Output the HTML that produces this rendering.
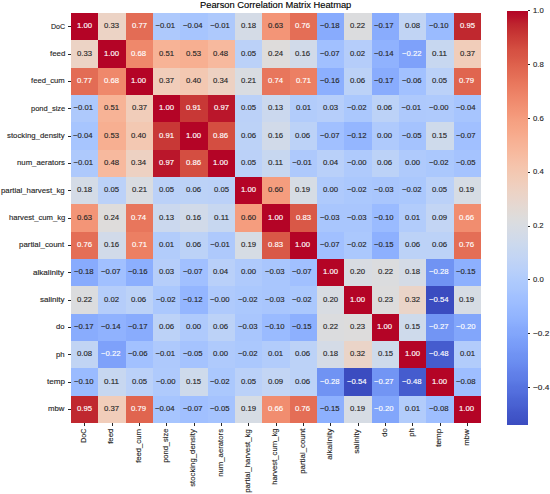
<!DOCTYPE html>
<html><head><meta charset="utf-8"><style>
html,body{margin:0;padding:0;background:#fff;}
body{width:550px;height:494px;position:relative;overflow:hidden;font-family:"Liberation Sans",sans-serif;}
.a{position:absolute;white-space:nowrap;line-height:1;-webkit-text-stroke:0.13px currentColor;}
.c{position:absolute;}
.t{position:absolute;background:#262626;}
</style></head><body>
<div class="a" style="left:200.46px;top:1.3px;font-size:9.0px;color:#000;transform:scaleX(1.0359);transform-origin:0 50%;">Pearson Correlation Matrix Heatmap</div>
<div class="c" style="left:71.00px;top:13.05px;width:27.35px;height:27.35px;background:#b40426"></div><div class="c" style="left:98.33px;top:13.05px;width:27.35px;height:27.35px;background:#ecd3c5"></div><div class="c" style="left:125.67px;top:13.05px;width:27.35px;height:27.35px;background:#e36c55"></div><div class="c" style="left:153.00px;top:13.05px;width:27.35px;height:27.35px;background:#aec9fc"></div><div class="c" style="left:180.33px;top:13.05px;width:27.35px;height:27.35px;background:#a7c5fe"></div><div class="c" style="left:207.67px;top:13.05px;width:27.35px;height:27.35px;background:#aec9fc"></div><div class="c" style="left:235.00px;top:13.05px;width:27.35px;height:27.35px;background:#d4dbe6"></div><div class="c" style="left:262.33px;top:13.05px;width:27.35px;height:27.35px;background:#f39577"></div><div class="c" style="left:289.67px;top:13.05px;width:27.35px;height:27.35px;background:#e46e56"></div><div class="c" style="left:317.00px;top:13.05px;width:27.35px;height:27.35px;background:#88abfd"></div><div class="c" style="left:344.33px;top:13.05px;width:27.35px;height:27.35px;background:#dbdcde"></div><div class="c" style="left:371.67px;top:13.05px;width:27.35px;height:27.35px;background:#89acfd"></div><div class="c" style="left:399.00px;top:13.05px;width:27.35px;height:27.35px;background:#c1d4f4"></div><div class="c" style="left:426.33px;top:13.05px;width:27.35px;height:27.35px;background:#9abbff"></div><div class="c" style="left:453.67px;top:13.05px;width:27.35px;height:27.35px;background:#c0282f"></div><div class="c" style="left:71.00px;top:40.38px;width:27.35px;height:27.35px;background:#ecd3c5"></div><div class="c" style="left:98.33px;top:40.38px;width:27.35px;height:27.35px;background:#b40426"></div><div class="c" style="left:125.67px;top:40.38px;width:27.35px;height:27.35px;background:#ef886b"></div><div class="c" style="left:153.00px;top:40.38px;width:27.35px;height:27.35px;background:#f7b396"></div><div class="c" style="left:180.33px;top:40.38px;width:27.35px;height:27.35px;background:#f7af91"></div><div class="c" style="left:207.67px;top:40.38px;width:27.35px;height:27.35px;background:#f7b99e"></div><div class="c" style="left:235.00px;top:40.38px;width:27.35px;height:27.35px;background:#bbd1f8"></div><div class="c" style="left:262.33px;top:40.38px;width:27.35px;height:27.35px;background:#dedcdb"></div><div class="c" style="left:289.67px;top:40.38px;width:27.35px;height:27.35px;background:#d1dae9"></div><div class="c" style="left:317.00px;top:40.38px;width:27.35px;height:27.35px;background:#a1c0ff"></div><div class="c" style="left:344.33px;top:40.38px;width:27.35px;height:27.35px;background:#b5cdfa"></div><div class="c" style="left:371.67px;top:40.38px;width:27.35px;height:27.35px;background:#90b2fe"></div><div class="c" style="left:399.00px;top:40.38px;width:27.35px;height:27.35px;background:#7ea1fa"></div><div class="c" style="left:426.33px;top:40.38px;width:27.35px;height:27.35px;background:#c7d7f0"></div><div class="c" style="left:453.67px;top:40.38px;width:27.35px;height:27.35px;background:#f1cdba"></div><div class="c" style="left:71.00px;top:67.72px;width:27.35px;height:27.35px;background:#e36c55"></div><div class="c" style="left:98.33px;top:67.72px;width:27.35px;height:27.35px;background:#ef886b"></div><div class="c" style="left:125.67px;top:67.72px;width:27.35px;height:27.35px;background:#b40426"></div><div class="c" style="left:153.00px;top:67.72px;width:27.35px;height:27.35px;background:#f1cdba"></div><div class="c" style="left:180.33px;top:67.72px;width:27.35px;height:27.35px;background:#f3c8b2"></div><div class="c" style="left:207.67px;top:67.72px;width:27.35px;height:27.35px;background:#edd1c2"></div><div class="c" style="left:235.00px;top:67.72px;width:27.35px;height:27.35px;background:#d9dce1"></div><div class="c" style="left:262.33px;top:67.72px;width:27.35px;height:27.35px;background:#e8765c"></div><div class="c" style="left:289.67px;top:67.72px;width:27.35px;height:27.35px;background:#ec7f63"></div><div class="c" style="left:317.00px;top:67.72px;width:27.35px;height:27.35px;background:#8caffe"></div><div class="c" style="left:344.33px;top:67.72px;width:27.35px;height:27.35px;background:#bcd2f7"></div><div class="c" style="left:371.67px;top:67.72px;width:27.35px;height:27.35px;background:#89acfd"></div><div class="c" style="left:399.00px;top:67.72px;width:27.35px;height:27.35px;background:#a2c1ff"></div><div class="c" style="left:426.33px;top:67.72px;width:27.35px;height:27.35px;background:#bbd1f8"></div><div class="c" style="left:453.67px;top:67.72px;width:27.35px;height:27.35px;background:#e0654f"></div><div class="c" style="left:71.00px;top:95.05px;width:27.35px;height:27.35px;background:#aec9fc"></div><div class="c" style="left:98.33px;top:95.05px;width:27.35px;height:27.35px;background:#f7b396"></div><div class="c" style="left:125.67px;top:95.05px;width:27.35px;height:27.35px;background:#f1cdba"></div><div class="c" style="left:153.00px;top:95.05px;width:27.35px;height:27.35px;background:#b40426"></div><div class="c" style="left:180.33px;top:95.05px;width:27.35px;height:27.35px;background:#c83836"></div><div class="c" style="left:207.67px;top:95.05px;width:27.35px;height:27.35px;background:#ba162b"></div><div class="c" style="left:235.00px;top:95.05px;width:27.35px;height:27.35px;background:#bbd1f8"></div><div class="c" style="left:262.33px;top:95.05px;width:27.35px;height:27.35px;background:#cbd8ee"></div><div class="c" style="left:289.67px;top:95.05px;width:27.35px;height:27.35px;background:#b2ccfb"></div><div class="c" style="left:317.00px;top:95.05px;width:27.35px;height:27.35px;background:#b6cefa"></div><div class="c" style="left:344.33px;top:95.05px;width:27.35px;height:27.35px;background:#abc8fd"></div><div class="c" style="left:371.67px;top:95.05px;width:27.35px;height:27.35px;background:#bcd2f7"></div><div class="c" style="left:399.00px;top:95.05px;width:27.35px;height:27.35px;background:#aec9fc"></div><div class="c" style="left:426.33px;top:95.05px;width:27.35px;height:27.35px;background:#afcafc"></div><div class="c" style="left:453.67px;top:95.05px;width:27.35px;height:27.35px;background:#a7c5fe"></div><div class="c" style="left:71.00px;top:122.38px;width:27.35px;height:27.35px;background:#a7c5fe"></div><div class="c" style="left:98.33px;top:122.38px;width:27.35px;height:27.35px;background:#f7af91"></div><div class="c" style="left:125.67px;top:122.38px;width:27.35px;height:27.35px;background:#f3c8b2"></div><div class="c" style="left:153.00px;top:122.38px;width:27.35px;height:27.35px;background:#c83836"></div><div class="c" style="left:180.33px;top:122.38px;width:27.35px;height:27.35px;background:#b40426"></div><div class="c" style="left:207.67px;top:122.38px;width:27.35px;height:27.35px;background:#d44e41"></div><div class="c" style="left:235.00px;top:122.38px;width:27.35px;height:27.35px;background:#bcd2f7"></div><div class="c" style="left:262.33px;top:122.38px;width:27.35px;height:27.35px;background:#d1dae9"></div><div class="c" style="left:289.67px;top:122.38px;width:27.35px;height:27.35px;background:#bcd2f7"></div><div class="c" style="left:317.00px;top:122.38px;width:27.35px;height:27.35px;background:#a1c0ff"></div><div class="c" style="left:344.33px;top:122.38px;width:27.35px;height:27.35px;background:#94b6ff"></div><div class="c" style="left:371.67px;top:122.38px;width:27.35px;height:27.35px;background:#afcafc"></div><div class="c" style="left:399.00px;top:122.38px;width:27.35px;height:27.35px;background:#a5c3fe"></div><div class="c" style="left:426.33px;top:122.38px;width:27.35px;height:27.35px;background:#cedaeb"></div><div class="c" style="left:453.67px;top:122.38px;width:27.35px;height:27.35px;background:#a1c0ff"></div><div class="c" style="left:71.00px;top:149.72px;width:27.35px;height:27.35px;background:#aec9fc"></div><div class="c" style="left:98.33px;top:149.72px;width:27.35px;height:27.35px;background:#f7b99e"></div><div class="c" style="left:125.67px;top:149.72px;width:27.35px;height:27.35px;background:#edd1c2"></div><div class="c" style="left:153.00px;top:149.72px;width:27.35px;height:27.35px;background:#ba162b"></div><div class="c" style="left:180.33px;top:149.72px;width:27.35px;height:27.35px;background:#d44e41"></div><div class="c" style="left:207.67px;top:149.72px;width:27.35px;height:27.35px;background:#b40426"></div><div class="c" style="left:235.00px;top:149.72px;width:27.35px;height:27.35px;background:#bbd1f8"></div><div class="c" style="left:262.33px;top:149.72px;width:27.35px;height:27.35px;background:#c7d7f0"></div><div class="c" style="left:289.67px;top:149.72px;width:27.35px;height:27.35px;background:#aec9fc"></div><div class="c" style="left:317.00px;top:149.72px;width:27.35px;height:27.35px;background:#b9d0f9"></div><div class="c" style="left:344.33px;top:149.72px;width:27.35px;height:27.35px;background:#afcafc"></div><div class="c" style="left:371.67px;top:149.72px;width:27.35px;height:27.35px;background:#bcd2f7"></div><div class="c" style="left:399.00px;top:149.72px;width:27.35px;height:27.35px;background:#afcafc"></div><div class="c" style="left:426.33px;top:149.72px;width:27.35px;height:27.35px;background:#abc8fd"></div><div class="c" style="left:453.67px;top:149.72px;width:27.35px;height:27.35px;background:#a5c3fe"></div><div class="c" style="left:71.00px;top:177.05px;width:27.35px;height:27.35px;background:#d4dbe6"></div><div class="c" style="left:98.33px;top:177.05px;width:27.35px;height:27.35px;background:#bbd1f8"></div><div class="c" style="left:125.67px;top:177.05px;width:27.35px;height:27.35px;background:#d9dce1"></div><div class="c" style="left:153.00px;top:177.05px;width:27.35px;height:27.35px;background:#bbd1f8"></div><div class="c" style="left:180.33px;top:177.05px;width:27.35px;height:27.35px;background:#bcd2f7"></div><div class="c" style="left:207.67px;top:177.05px;width:27.35px;height:27.35px;background:#bbd1f8"></div><div class="c" style="left:235.00px;top:177.05px;width:27.35px;height:27.35px;background:#b40426"></div><div class="c" style="left:262.33px;top:177.05px;width:27.35px;height:27.35px;background:#f59d7e"></div><div class="c" style="left:289.67px;top:177.05px;width:27.35px;height:27.35px;background:#d6dce4"></div><div class="c" style="left:317.00px;top:177.05px;width:27.35px;height:27.35px;background:#afcafc"></div><div class="c" style="left:344.33px;top:177.05px;width:27.35px;height:27.35px;background:#abc8fd"></div><div class="c" style="left:371.67px;top:177.05px;width:27.35px;height:27.35px;background:#a9c6fd"></div><div class="c" style="left:399.00px;top:177.05px;width:27.35px;height:27.35px;background:#abc8fd"></div><div class="c" style="left:426.33px;top:177.05px;width:27.35px;height:27.35px;background:#bbd1f8"></div><div class="c" style="left:453.67px;top:177.05px;width:27.35px;height:27.35px;background:#d6dce4"></div><div class="c" style="left:71.00px;top:204.38px;width:27.35px;height:27.35px;background:#f39577"></div><div class="c" style="left:98.33px;top:204.38px;width:27.35px;height:27.35px;background:#dedcdb"></div><div class="c" style="left:125.67px;top:204.38px;width:27.35px;height:27.35px;background:#e8765c"></div><div class="c" style="left:153.00px;top:204.38px;width:27.35px;height:27.35px;background:#cbd8ee"></div><div class="c" style="left:180.33px;top:204.38px;width:27.35px;height:27.35px;background:#d1dae9"></div><div class="c" style="left:207.67px;top:204.38px;width:27.35px;height:27.35px;background:#c7d7f0"></div><div class="c" style="left:235.00px;top:204.38px;width:27.35px;height:27.35px;background:#f59d7e"></div><div class="c" style="left:262.33px;top:204.38px;width:27.35px;height:27.35px;background:#b40426"></div><div class="c" style="left:289.67px;top:204.38px;width:27.35px;height:27.35px;background:#d95847"></div><div class="c" style="left:317.00px;top:204.38px;width:27.35px;height:27.35px;background:#a9c6fd"></div><div class="c" style="left:344.33px;top:204.38px;width:27.35px;height:27.35px;background:#a9c6fd"></div><div class="c" style="left:371.67px;top:204.38px;width:27.35px;height:27.35px;background:#9abbff"></div><div class="c" style="left:399.00px;top:204.38px;width:27.35px;height:27.35px;background:#b2ccfb"></div><div class="c" style="left:426.33px;top:204.38px;width:27.35px;height:27.35px;background:#c3d5f4"></div><div class="c" style="left:453.67px;top:204.38px;width:27.35px;height:27.35px;background:#f18d6f"></div><div class="c" style="left:71.00px;top:231.72px;width:27.35px;height:27.35px;background:#e46e56"></div><div class="c" style="left:98.33px;top:231.72px;width:27.35px;height:27.35px;background:#d1dae9"></div><div class="c" style="left:125.67px;top:231.72px;width:27.35px;height:27.35px;background:#ec7f63"></div><div class="c" style="left:153.00px;top:231.72px;width:27.35px;height:27.35px;background:#b2ccfb"></div><div class="c" style="left:180.33px;top:231.72px;width:27.35px;height:27.35px;background:#bcd2f7"></div><div class="c" style="left:207.67px;top:231.72px;width:27.35px;height:27.35px;background:#aec9fc"></div><div class="c" style="left:235.00px;top:231.72px;width:27.35px;height:27.35px;background:#d6dce4"></div><div class="c" style="left:262.33px;top:231.72px;width:27.35px;height:27.35px;background:#d95847"></div><div class="c" style="left:289.67px;top:231.72px;width:27.35px;height:27.35px;background:#b40426"></div><div class="c" style="left:317.00px;top:231.72px;width:27.35px;height:27.35px;background:#a1c0ff"></div><div class="c" style="left:344.33px;top:231.72px;width:27.35px;height:27.35px;background:#abc8fd"></div><div class="c" style="left:371.67px;top:231.72px;width:27.35px;height:27.35px;background:#8db0fe"></div><div class="c" style="left:399.00px;top:231.72px;width:27.35px;height:27.35px;background:#bcd2f7"></div><div class="c" style="left:426.33px;top:231.72px;width:27.35px;height:27.35px;background:#bcd2f7"></div><div class="c" style="left:453.67px;top:231.72px;width:27.35px;height:27.35px;background:#e46e56"></div><div class="c" style="left:71.00px;top:259.05px;width:27.35px;height:27.35px;background:#88abfd"></div><div class="c" style="left:98.33px;top:259.05px;width:27.35px;height:27.35px;background:#a1c0ff"></div><div class="c" style="left:125.67px;top:259.05px;width:27.35px;height:27.35px;background:#8caffe"></div><div class="c" style="left:153.00px;top:259.05px;width:27.35px;height:27.35px;background:#b6cefa"></div><div class="c" style="left:180.33px;top:259.05px;width:27.35px;height:27.35px;background:#a1c0ff"></div><div class="c" style="left:207.67px;top:259.05px;width:27.35px;height:27.35px;background:#b9d0f9"></div><div class="c" style="left:235.00px;top:259.05px;width:27.35px;height:27.35px;background:#afcafc"></div><div class="c" style="left:262.33px;top:259.05px;width:27.35px;height:27.35px;background:#a9c6fd"></div><div class="c" style="left:289.67px;top:259.05px;width:27.35px;height:27.35px;background:#a1c0ff"></div><div class="c" style="left:317.00px;top:259.05px;width:27.35px;height:27.35px;background:#b40426"></div><div class="c" style="left:344.33px;top:259.05px;width:27.35px;height:27.35px;background:#d8dce2"></div><div class="c" style="left:371.67px;top:259.05px;width:27.35px;height:27.35px;background:#dbdcde"></div><div class="c" style="left:399.00px;top:259.05px;width:27.35px;height:27.35px;background:#d4dbe6"></div><div class="c" style="left:426.33px;top:259.05px;width:27.35px;height:27.35px;background:#7093f3"></div><div class="c" style="left:453.67px;top:259.05px;width:27.35px;height:27.35px;background:#8db0fe"></div><div class="c" style="left:71.00px;top:286.38px;width:27.35px;height:27.35px;background:#dbdcde"></div><div class="c" style="left:98.33px;top:286.38px;width:27.35px;height:27.35px;background:#b5cdfa"></div><div class="c" style="left:125.67px;top:286.38px;width:27.35px;height:27.35px;background:#bcd2f7"></div><div class="c" style="left:153.00px;top:286.38px;width:27.35px;height:27.35px;background:#abc8fd"></div><div class="c" style="left:180.33px;top:286.38px;width:27.35px;height:27.35px;background:#94b6ff"></div><div class="c" style="left:207.67px;top:286.38px;width:27.35px;height:27.35px;background:#afcafc"></div><div class="c" style="left:235.00px;top:286.38px;width:27.35px;height:27.35px;background:#abc8fd"></div><div class="c" style="left:262.33px;top:286.38px;width:27.35px;height:27.35px;background:#a9c6fd"></div><div class="c" style="left:289.67px;top:286.38px;width:27.35px;height:27.35px;background:#abc8fd"></div><div class="c" style="left:317.00px;top:286.38px;width:27.35px;height:27.35px;background:#d8dce2"></div><div class="c" style="left:344.33px;top:286.38px;width:27.35px;height:27.35px;background:#b40426"></div><div class="c" style="left:371.67px;top:286.38px;width:27.35px;height:27.35px;background:#dddcdc"></div><div class="c" style="left:399.00px;top:286.38px;width:27.35px;height:27.35px;background:#ead4c8"></div><div class="c" style="left:426.33px;top:286.38px;width:27.35px;height:27.35px;background:#3b4cc0"></div><div class="c" style="left:453.67px;top:286.38px;width:27.35px;height:27.35px;background:#d6dce4"></div><div class="c" style="left:71.00px;top:313.72px;width:27.35px;height:27.35px;background:#89acfd"></div><div class="c" style="left:98.33px;top:313.72px;width:27.35px;height:27.35px;background:#90b2fe"></div><div class="c" style="left:125.67px;top:313.72px;width:27.35px;height:27.35px;background:#89acfd"></div><div class="c" style="left:153.00px;top:313.72px;width:27.35px;height:27.35px;background:#bcd2f7"></div><div class="c" style="left:180.33px;top:313.72px;width:27.35px;height:27.35px;background:#afcafc"></div><div class="c" style="left:207.67px;top:313.72px;width:27.35px;height:27.35px;background:#bcd2f7"></div><div class="c" style="left:235.00px;top:313.72px;width:27.35px;height:27.35px;background:#a9c6fd"></div><div class="c" style="left:262.33px;top:313.72px;width:27.35px;height:27.35px;background:#9abbff"></div><div class="c" style="left:289.67px;top:313.72px;width:27.35px;height:27.35px;background:#8db0fe"></div><div class="c" style="left:317.00px;top:313.72px;width:27.35px;height:27.35px;background:#dbdcde"></div><div class="c" style="left:344.33px;top:313.72px;width:27.35px;height:27.35px;background:#dddcdc"></div><div class="c" style="left:371.67px;top:313.72px;width:27.35px;height:27.35px;background:#b40426"></div><div class="c" style="left:399.00px;top:313.72px;width:27.35px;height:27.35px;background:#cedaeb"></div><div class="c" style="left:426.33px;top:313.72px;width:27.35px;height:27.35px;background:#7295f4"></div><div class="c" style="left:453.67px;top:313.72px;width:27.35px;height:27.35px;background:#82a6fb"></div><div class="c" style="left:71.00px;top:341.05px;width:27.35px;height:27.35px;background:#c1d4f4"></div><div class="c" style="left:98.33px;top:341.05px;width:27.35px;height:27.35px;background:#7ea1fa"></div><div class="c" style="left:125.67px;top:341.05px;width:27.35px;height:27.35px;background:#a2c1ff"></div><div class="c" style="left:153.00px;top:341.05px;width:27.35px;height:27.35px;background:#aec9fc"></div><div class="c" style="left:180.33px;top:341.05px;width:27.35px;height:27.35px;background:#a5c3fe"></div><div class="c" style="left:207.67px;top:341.05px;width:27.35px;height:27.35px;background:#afcafc"></div><div class="c" style="left:235.00px;top:341.05px;width:27.35px;height:27.35px;background:#abc8fd"></div><div class="c" style="left:262.33px;top:341.05px;width:27.35px;height:27.35px;background:#b2ccfb"></div><div class="c" style="left:289.67px;top:341.05px;width:27.35px;height:27.35px;background:#bcd2f7"></div><div class="c" style="left:317.00px;top:341.05px;width:27.35px;height:27.35px;background:#d4dbe6"></div><div class="c" style="left:344.33px;top:341.05px;width:27.35px;height:27.35px;background:#ead4c8"></div><div class="c" style="left:371.67px;top:341.05px;width:27.35px;height:27.35px;background:#cedaeb"></div><div class="c" style="left:399.00px;top:341.05px;width:27.35px;height:27.35px;background:#b40426"></div><div class="c" style="left:426.33px;top:341.05px;width:27.35px;height:27.35px;background:#455cce"></div><div class="c" style="left:453.67px;top:341.05px;width:27.35px;height:27.35px;background:#b2ccfb"></div><div class="c" style="left:71.00px;top:368.38px;width:27.35px;height:27.35px;background:#9abbff"></div><div class="c" style="left:98.33px;top:368.38px;width:27.35px;height:27.35px;background:#c7d7f0"></div><div class="c" style="left:125.67px;top:368.38px;width:27.35px;height:27.35px;background:#bbd1f8"></div><div class="c" style="left:153.00px;top:368.38px;width:27.35px;height:27.35px;background:#afcafc"></div><div class="c" style="left:180.33px;top:368.38px;width:27.35px;height:27.35px;background:#cedaeb"></div><div class="c" style="left:207.67px;top:368.38px;width:27.35px;height:27.35px;background:#abc8fd"></div><div class="c" style="left:235.00px;top:368.38px;width:27.35px;height:27.35px;background:#bbd1f8"></div><div class="c" style="left:262.33px;top:368.38px;width:27.35px;height:27.35px;background:#c3d5f4"></div><div class="c" style="left:289.67px;top:368.38px;width:27.35px;height:27.35px;background:#bcd2f7"></div><div class="c" style="left:317.00px;top:368.38px;width:27.35px;height:27.35px;background:#7093f3"></div><div class="c" style="left:344.33px;top:368.38px;width:27.35px;height:27.35px;background:#3b4cc0"></div><div class="c" style="left:371.67px;top:368.38px;width:27.35px;height:27.35px;background:#7295f4"></div><div class="c" style="left:399.00px;top:368.38px;width:27.35px;height:27.35px;background:#455cce"></div><div class="c" style="left:426.33px;top:368.38px;width:27.35px;height:27.35px;background:#b40426"></div><div class="c" style="left:453.67px;top:368.38px;width:27.35px;height:27.35px;background:#9ebeff"></div><div class="c" style="left:71.00px;top:395.72px;width:27.35px;height:27.35px;background:#c0282f"></div><div class="c" style="left:98.33px;top:395.72px;width:27.35px;height:27.35px;background:#f1cdba"></div><div class="c" style="left:125.67px;top:395.72px;width:27.35px;height:27.35px;background:#e0654f"></div><div class="c" style="left:153.00px;top:395.72px;width:27.35px;height:27.35px;background:#a7c5fe"></div><div class="c" style="left:180.33px;top:395.72px;width:27.35px;height:27.35px;background:#a1c0ff"></div><div class="c" style="left:207.67px;top:395.72px;width:27.35px;height:27.35px;background:#a5c3fe"></div><div class="c" style="left:235.00px;top:395.72px;width:27.35px;height:27.35px;background:#d6dce4"></div><div class="c" style="left:262.33px;top:395.72px;width:27.35px;height:27.35px;background:#f18d6f"></div><div class="c" style="left:289.67px;top:395.72px;width:27.35px;height:27.35px;background:#e46e56"></div><div class="c" style="left:317.00px;top:395.72px;width:27.35px;height:27.35px;background:#8db0fe"></div><div class="c" style="left:344.33px;top:395.72px;width:27.35px;height:27.35px;background:#d6dce4"></div><div class="c" style="left:371.67px;top:395.72px;width:27.35px;height:27.35px;background:#82a6fb"></div><div class="c" style="left:399.00px;top:395.72px;width:27.35px;height:27.35px;background:#b2ccfb"></div><div class="c" style="left:426.33px;top:395.72px;width:27.35px;height:27.35px;background:#9ebeff"></div><div class="c" style="left:453.67px;top:395.72px;width:27.35px;height:27.35px;background:#b40426"></div>
<div class="a" style="left:76.66px;top:22.27px;font-size:7.7px;color:#ffffff;transform:scaleX(1.0084);transform-origin:0 50%">1.00</div><div class="a" style="left:104.16px;top:22.27px;font-size:7.7px;color:#262626;transform:scaleX(1.0067);transform-origin:0 50%">0.33</div><div class="a" style="left:131.51px;top:22.27px;font-size:7.7px;color:#ffffff;transform:scaleX(1.0096);transform-origin:0 50%">0.77</div><div class="a" style="left:155.61px;top:22.27px;font-size:7.7px;color:#262626;transform:scaleX(1.0000);transform-origin:0 50%">−0.01</div><div class="a" style="left:182.82px;top:22.27px;font-size:7.7px;color:#262626;transform:scaleX(1.0060);transform-origin:0 50%">−0.04</div><div class="a" style="left:210.27px;top:22.27px;font-size:7.7px;color:#262626;transform:scaleX(1.0000);transform-origin:0 50%">−0.01</div><div class="a" style="left:240.77px;top:22.27px;font-size:7.7px;color:#262626;transform:scaleX(1.0139);transform-origin:0 50%">0.18</div><div class="a" style="left:268.16px;top:22.27px;font-size:7.7px;color:#262626;transform:scaleX(1.0067);transform-origin:0 50%">0.63</div><div class="a" style="left:295.42px;top:22.27px;font-size:7.7px;color:#ffffff;transform:scaleX(1.0163);transform-origin:0 50%">0.76</div><div class="a" style="left:319.52px;top:22.27px;font-size:7.7px;color:#262626;transform:scaleX(1.0067);transform-origin:0 50%">−0.18</div><div class="a" style="left:350.23px;top:22.27px;font-size:7.7px;color:#262626;transform:scaleX(1.0023);transform-origin:0 50%">0.22</div><div class="a" style="left:374.26px;top:22.27px;font-size:7.7px;color:#262626;transform:scaleX(1.0038);transform-origin:0 50%">−0.17</div><div class="a" style="left:404.77px;top:22.27px;font-size:7.7px;color:#262626;transform:scaleX(1.0139);transform-origin:0 50%">0.08</div><div class="a" style="left:428.86px;top:22.27px;font-size:7.7px;color:#262626;transform:scaleX(1.0046);transform-origin:0 50%">−0.10</div><div class="a" style="left:459.51px;top:22.27px;font-size:7.7px;color:#ffffff;transform:scaleX(1.0042);transform-origin:0 50%">0.95</div><div class="a" style="left:76.83px;top:49.60px;font-size:7.7px;color:#262626;transform:scaleX(1.0067);transform-origin:0 50%">0.33</div><div class="a" style="left:103.99px;top:49.60px;font-size:7.7px;color:#ffffff;transform:scaleX(1.0084);transform-origin:0 50%">1.00</div><div class="a" style="left:131.44px;top:49.60px;font-size:7.7px;color:#ffffff;transform:scaleX(1.0139);transform-origin:0 50%">0.68</div><div class="a" style="left:158.86px;top:49.60px;font-size:7.7px;color:#262626;transform:scaleX(1.0045);transform-origin:0 50%">0.51</div><div class="a" style="left:186.16px;top:49.60px;font-size:7.7px;color:#262626;transform:scaleX(1.0067);transform-origin:0 50%">0.53</div><div class="a" style="left:213.44px;top:49.60px;font-size:7.7px;color:#262626;transform:scaleX(1.0139);transform-origin:0 50%">0.48</div><div class="a" style="left:240.85px;top:49.60px;font-size:7.7px;color:#262626;transform:scaleX(1.0042);transform-origin:0 50%">0.05</div><div class="a" style="left:268.07px;top:49.60px;font-size:7.7px;color:#262626;transform:scaleX(1.0133);transform-origin:0 50%">0.24</div><div class="a" style="left:295.42px;top:49.60px;font-size:7.7px;color:#262626;transform:scaleX(1.0163);transform-origin:0 50%">0.16</div><div class="a" style="left:319.59px;top:49.60px;font-size:7.7px;color:#262626;transform:scaleX(1.0038);transform-origin:0 50%">−0.07</div><div class="a" style="left:350.23px;top:49.60px;font-size:7.7px;color:#262626;transform:scaleX(1.0023);transform-origin:0 50%">0.02</div><div class="a" style="left:374.16px;top:49.60px;font-size:7.7px;color:#262626;transform:scaleX(1.0060);transform-origin:0 50%">−0.14</div><div class="a" style="left:401.64px;top:49.60px;font-size:7.7px;color:#ffffff;transform:scaleX(0.9986);transform-origin:0 50%">−0.22</div><div class="a" style="left:432.18px;top:49.60px;font-size:7.7px;color:#262626;transform:scaleX(1.0467);transform-origin:0 50%">0.11</div><div class="a" style="left:459.51px;top:49.60px;font-size:7.7px;color:#262626;transform:scaleX(1.0096);transform-origin:0 50%">0.37</div><div class="a" style="left:76.85px;top:76.93px;font-size:7.7px;color:#ffffff;transform:scaleX(1.0096);transform-origin:0 50%">0.77</div><div class="a" style="left:104.11px;top:76.93px;font-size:7.7px;color:#ffffff;transform:scaleX(1.0139);transform-origin:0 50%">0.68</div><div class="a" style="left:131.33px;top:76.93px;font-size:7.7px;color:#ffffff;transform:scaleX(1.0084);transform-origin:0 50%">1.00</div><div class="a" style="left:158.85px;top:76.93px;font-size:7.7px;color:#262626;transform:scaleX(1.0096);transform-origin:0 50%">0.37</div><div class="a" style="left:186.11px;top:76.93px;font-size:7.7px;color:#262626;transform:scaleX(1.0112);transform-origin:0 50%">0.40</div><div class="a" style="left:213.41px;top:76.93px;font-size:7.7px;color:#262626;transform:scaleX(1.0133);transform-origin:0 50%">0.34</div><div class="a" style="left:240.86px;top:76.93px;font-size:7.7px;color:#262626;transform:scaleX(1.0045);transform-origin:0 50%">0.21</div><div class="a" style="left:268.07px;top:76.93px;font-size:7.7px;color:#ffffff;transform:scaleX(1.0133);transform-origin:0 50%">0.74</div><div class="a" style="left:295.53px;top:76.93px;font-size:7.7px;color:#ffffff;transform:scaleX(1.0045);transform-origin:0 50%">0.71</div><div class="a" style="left:319.51px;top:76.93px;font-size:7.7px;color:#262626;transform:scaleX(1.0084);transform-origin:0 50%">−0.16</div><div class="a" style="left:350.09px;top:76.93px;font-size:7.7px;color:#262626;transform:scaleX(1.0163);transform-origin:0 50%">0.06</div><div class="a" style="left:374.26px;top:76.93px;font-size:7.7px;color:#262626;transform:scaleX(1.0038);transform-origin:0 50%">−0.17</div><div class="a" style="left:401.51px;top:76.93px;font-size:7.7px;color:#262626;transform:scaleX(1.0084);transform-origin:0 50%">−0.06</div><div class="a" style="left:432.18px;top:76.93px;font-size:7.7px;color:#262626;transform:scaleX(1.0042);transform-origin:0 50%">0.05</div><div class="a" style="left:459.46px;top:76.93px;font-size:7.7px;color:#ffffff;transform:scaleX(1.0142);transform-origin:0 50%">0.79</div><div class="a" style="left:73.61px;top:104.27px;font-size:7.7px;color:#262626;transform:scaleX(1.0000);transform-origin:0 50%">−0.01</div><div class="a" style="left:104.20px;top:104.27px;font-size:7.7px;color:#262626;transform:scaleX(1.0045);transform-origin:0 50%">0.51</div><div class="a" style="left:131.51px;top:104.27px;font-size:7.7px;color:#262626;transform:scaleX(1.0096);transform-origin:0 50%">0.37</div><div class="a" style="left:158.66px;top:104.27px;font-size:7.7px;color:#ffffff;transform:scaleX(1.0084);transform-origin:0 50%">1.00</div><div class="a" style="left:186.20px;top:104.27px;font-size:7.7px;color:#ffffff;transform:scaleX(1.0045);transform-origin:0 50%">0.91</div><div class="a" style="left:213.51px;top:104.27px;font-size:7.7px;color:#ffffff;transform:scaleX(1.0096);transform-origin:0 50%">0.97</div><div class="a" style="left:240.85px;top:104.27px;font-size:7.7px;color:#262626;transform:scaleX(1.0042);transform-origin:0 50%">0.05</div><div class="a" style="left:268.16px;top:104.27px;font-size:7.7px;color:#262626;transform:scaleX(1.0067);transform-origin:0 50%">0.13</div><div class="a" style="left:295.53px;top:104.27px;font-size:7.7px;color:#262626;transform:scaleX(1.0045);transform-origin:0 50%">0.01</div><div class="a" style="left:322.83px;top:104.27px;font-size:7.7px;color:#262626;transform:scaleX(1.0067);transform-origin:0 50%">0.03</div><div class="a" style="left:346.97px;top:104.27px;font-size:7.7px;color:#262626;transform:scaleX(0.9986);transform-origin:0 50%">−0.02</div><div class="a" style="left:377.42px;top:104.27px;font-size:7.7px;color:#262626;transform:scaleX(1.0163);transform-origin:0 50%">0.06</div><div class="a" style="left:401.61px;top:104.27px;font-size:7.7px;color:#262626;transform:scaleX(1.0000);transform-origin:0 50%">−0.01</div><div class="a" style="left:428.86px;top:104.27px;font-size:7.7px;color:#262626;transform:scaleX(1.0046);transform-origin:0 50%">−0.00</div><div class="a" style="left:456.16px;top:104.27px;font-size:7.7px;color:#262626;transform:scaleX(1.0060);transform-origin:0 50%">−0.04</div><div class="a" style="left:73.49px;top:131.60px;font-size:7.7px;color:#262626;transform:scaleX(1.0060);transform-origin:0 50%">−0.04</div><div class="a" style="left:104.16px;top:131.60px;font-size:7.7px;color:#262626;transform:scaleX(1.0067);transform-origin:0 50%">0.53</div><div class="a" style="left:131.44px;top:131.60px;font-size:7.7px;color:#262626;transform:scaleX(1.0112);transform-origin:0 50%">0.40</div><div class="a" style="left:158.86px;top:131.60px;font-size:7.7px;color:#ffffff;transform:scaleX(1.0045);transform-origin:0 50%">0.91</div><div class="a" style="left:185.99px;top:131.60px;font-size:7.7px;color:#ffffff;transform:scaleX(1.0084);transform-origin:0 50%">1.00</div><div class="a" style="left:213.42px;top:131.60px;font-size:7.7px;color:#ffffff;transform:scaleX(1.0163);transform-origin:0 50%">0.86</div><div class="a" style="left:240.76px;top:131.60px;font-size:7.7px;color:#262626;transform:scaleX(1.0163);transform-origin:0 50%">0.06</div><div class="a" style="left:268.09px;top:131.60px;font-size:7.7px;color:#262626;transform:scaleX(1.0163);transform-origin:0 50%">0.16</div><div class="a" style="left:295.42px;top:131.60px;font-size:7.7px;color:#262626;transform:scaleX(1.0163);transform-origin:0 50%">0.06</div><div class="a" style="left:319.59px;top:131.60px;font-size:7.7px;color:#262626;transform:scaleX(1.0038);transform-origin:0 50%">−0.07</div><div class="a" style="left:346.97px;top:131.60px;font-size:7.7px;color:#262626;transform:scaleX(0.9986);transform-origin:0 50%">−0.12</div><div class="a" style="left:377.44px;top:131.60px;font-size:7.7px;color:#262626;transform:scaleX(1.0112);transform-origin:0 50%">0.00</div><div class="a" style="left:401.59px;top:131.60px;font-size:7.7px;color:#262626;transform:scaleX(0.9997);transform-origin:0 50%">−0.05</div><div class="a" style="left:432.18px;top:131.60px;font-size:7.7px;color:#262626;transform:scaleX(1.0042);transform-origin:0 50%">0.15</div><div class="a" style="left:456.26px;top:131.60px;font-size:7.7px;color:#262626;transform:scaleX(1.0038);transform-origin:0 50%">−0.07</div><div class="a" style="left:73.61px;top:158.93px;font-size:7.7px;color:#262626;transform:scaleX(1.0000);transform-origin:0 50%">−0.01</div><div class="a" style="left:104.11px;top:158.93px;font-size:7.7px;color:#262626;transform:scaleX(1.0139);transform-origin:0 50%">0.48</div><div class="a" style="left:131.41px;top:158.93px;font-size:7.7px;color:#262626;transform:scaleX(1.0133);transform-origin:0 50%">0.34</div><div class="a" style="left:158.85px;top:158.93px;font-size:7.7px;color:#ffffff;transform:scaleX(1.0096);transform-origin:0 50%">0.97</div><div class="a" style="left:186.09px;top:158.93px;font-size:7.7px;color:#ffffff;transform:scaleX(1.0163);transform-origin:0 50%">0.86</div><div class="a" style="left:213.33px;top:158.93px;font-size:7.7px;color:#ffffff;transform:scaleX(1.0084);transform-origin:0 50%">1.00</div><div class="a" style="left:240.85px;top:158.93px;font-size:7.7px;color:#262626;transform:scaleX(1.0042);transform-origin:0 50%">0.05</div><div class="a" style="left:268.18px;top:158.93px;font-size:7.7px;color:#262626;transform:scaleX(1.0467);transform-origin:0 50%">0.11</div><div class="a" style="left:292.27px;top:158.93px;font-size:7.7px;color:#262626;transform:scaleX(1.0000);transform-origin:0 50%">−0.01</div><div class="a" style="left:322.74px;top:158.93px;font-size:7.7px;color:#262626;transform:scaleX(1.0133);transform-origin:0 50%">0.04</div><div class="a" style="left:346.86px;top:158.93px;font-size:7.7px;color:#262626;transform:scaleX(1.0046);transform-origin:0 50%">−0.00</div><div class="a" style="left:377.42px;top:158.93px;font-size:7.7px;color:#262626;transform:scaleX(1.0163);transform-origin:0 50%">0.06</div><div class="a" style="left:404.78px;top:158.93px;font-size:7.7px;color:#262626;transform:scaleX(1.0112);transform-origin:0 50%">0.00</div><div class="a" style="left:428.97px;top:158.93px;font-size:7.7px;color:#262626;transform:scaleX(0.9986);transform-origin:0 50%">−0.02</div><div class="a" style="left:456.26px;top:158.93px;font-size:7.7px;color:#262626;transform:scaleX(0.9997);transform-origin:0 50%">−0.05</div><div class="a" style="left:76.77px;top:186.27px;font-size:7.7px;color:#262626;transform:scaleX(1.0139);transform-origin:0 50%">0.18</div><div class="a" style="left:104.18px;top:186.27px;font-size:7.7px;color:#262626;transform:scaleX(1.0042);transform-origin:0 50%">0.05</div><div class="a" style="left:131.53px;top:186.27px;font-size:7.7px;color:#262626;transform:scaleX(1.0045);transform-origin:0 50%">0.21</div><div class="a" style="left:158.85px;top:186.27px;font-size:7.7px;color:#262626;transform:scaleX(1.0042);transform-origin:0 50%">0.05</div><div class="a" style="left:186.09px;top:186.27px;font-size:7.7px;color:#262626;transform:scaleX(1.0163);transform-origin:0 50%">0.06</div><div class="a" style="left:213.51px;top:186.27px;font-size:7.7px;color:#262626;transform:scaleX(1.0042);transform-origin:0 50%">0.05</div><div class="a" style="left:240.66px;top:186.27px;font-size:7.7px;color:#ffffff;transform:scaleX(1.0084);transform-origin:0 50%">1.00</div><div class="a" style="left:268.11px;top:186.27px;font-size:7.7px;color:#262626;transform:scaleX(1.0112);transform-origin:0 50%">0.60</div><div class="a" style="left:295.46px;top:186.27px;font-size:7.7px;color:#262626;transform:scaleX(1.0142);transform-origin:0 50%">0.19</div><div class="a" style="left:322.78px;top:186.27px;font-size:7.7px;color:#262626;transform:scaleX(1.0112);transform-origin:0 50%">0.00</div><div class="a" style="left:346.97px;top:186.27px;font-size:7.7px;color:#262626;transform:scaleX(0.9986);transform-origin:0 50%">−0.02</div><div class="a" style="left:374.24px;top:186.27px;font-size:7.7px;color:#262626;transform:scaleX(1.0014);transform-origin:0 50%">−0.03</div><div class="a" style="left:401.64px;top:186.27px;font-size:7.7px;color:#262626;transform:scaleX(0.9986);transform-origin:0 50%">−0.02</div><div class="a" style="left:432.18px;top:186.27px;font-size:7.7px;color:#262626;transform:scaleX(1.0042);transform-origin:0 50%">0.05</div><div class="a" style="left:459.46px;top:186.27px;font-size:7.7px;color:#262626;transform:scaleX(1.0142);transform-origin:0 50%">0.19</div><div class="a" style="left:76.83px;top:213.60px;font-size:7.7px;color:#262626;transform:scaleX(1.0067);transform-origin:0 50%">0.63</div><div class="a" style="left:104.07px;top:213.60px;font-size:7.7px;color:#262626;transform:scaleX(1.0133);transform-origin:0 50%">0.24</div><div class="a" style="left:131.41px;top:213.60px;font-size:7.7px;color:#ffffff;transform:scaleX(1.0133);transform-origin:0 50%">0.74</div><div class="a" style="left:158.83px;top:213.60px;font-size:7.7px;color:#262626;transform:scaleX(1.0067);transform-origin:0 50%">0.13</div><div class="a" style="left:186.09px;top:213.60px;font-size:7.7px;color:#262626;transform:scaleX(1.0163);transform-origin:0 50%">0.16</div><div class="a" style="left:213.52px;top:213.60px;font-size:7.7px;color:#262626;transform:scaleX(1.0467);transform-origin:0 50%">0.11</div><div class="a" style="left:240.78px;top:213.60px;font-size:7.7px;color:#262626;transform:scaleX(1.0112);transform-origin:0 50%">0.60</div><div class="a" style="left:267.99px;top:213.60px;font-size:7.7px;color:#ffffff;transform:scaleX(1.0084);transform-origin:0 50%">1.00</div><div class="a" style="left:295.50px;top:213.60px;font-size:7.7px;color:#ffffff;transform:scaleX(1.0067);transform-origin:0 50%">0.83</div><div class="a" style="left:319.57px;top:213.60px;font-size:7.7px;color:#262626;transform:scaleX(1.0014);transform-origin:0 50%">−0.03</div><div class="a" style="left:346.91px;top:213.60px;font-size:7.7px;color:#262626;transform:scaleX(1.0014);transform-origin:0 50%">−0.03</div><div class="a" style="left:374.19px;top:213.60px;font-size:7.7px;color:#262626;transform:scaleX(1.0046);transform-origin:0 50%">−0.10</div><div class="a" style="left:404.86px;top:213.60px;font-size:7.7px;color:#262626;transform:scaleX(1.0045);transform-origin:0 50%">0.01</div><div class="a" style="left:432.12px;top:213.60px;font-size:7.7px;color:#262626;transform:scaleX(1.0142);transform-origin:0 50%">0.09</div><div class="a" style="left:459.42px;top:213.60px;font-size:7.7px;color:#ffffff;transform:scaleX(1.0163);transform-origin:0 50%">0.66</div><div class="a" style="left:76.76px;top:240.93px;font-size:7.7px;color:#ffffff;transform:scaleX(1.0163);transform-origin:0 50%">0.76</div><div class="a" style="left:104.09px;top:240.93px;font-size:7.7px;color:#262626;transform:scaleX(1.0163);transform-origin:0 50%">0.16</div><div class="a" style="left:131.53px;top:240.93px;font-size:7.7px;color:#ffffff;transform:scaleX(1.0045);transform-origin:0 50%">0.71</div><div class="a" style="left:158.86px;top:240.93px;font-size:7.7px;color:#262626;transform:scaleX(1.0045);transform-origin:0 50%">0.01</div><div class="a" style="left:186.09px;top:240.93px;font-size:7.7px;color:#262626;transform:scaleX(1.0163);transform-origin:0 50%">0.06</div><div class="a" style="left:210.27px;top:240.93px;font-size:7.7px;color:#262626;transform:scaleX(1.0000);transform-origin:0 50%">−0.01</div><div class="a" style="left:240.79px;top:240.93px;font-size:7.7px;color:#262626;transform:scaleX(1.0142);transform-origin:0 50%">0.19</div><div class="a" style="left:268.16px;top:240.93px;font-size:7.7px;color:#ffffff;transform:scaleX(1.0067);transform-origin:0 50%">0.83</div><div class="a" style="left:295.33px;top:240.93px;font-size:7.7px;color:#ffffff;transform:scaleX(1.0084);transform-origin:0 50%">1.00</div><div class="a" style="left:319.59px;top:240.93px;font-size:7.7px;color:#262626;transform:scaleX(1.0038);transform-origin:0 50%">−0.07</div><div class="a" style="left:346.97px;top:240.93px;font-size:7.7px;color:#262626;transform:scaleX(0.9986);transform-origin:0 50%">−0.02</div><div class="a" style="left:374.26px;top:240.93px;font-size:7.7px;color:#262626;transform:scaleX(0.9997);transform-origin:0 50%">−0.15</div><div class="a" style="left:404.76px;top:240.93px;font-size:7.7px;color:#262626;transform:scaleX(1.0163);transform-origin:0 50%">0.06</div><div class="a" style="left:432.09px;top:240.93px;font-size:7.7px;color:#262626;transform:scaleX(1.0163);transform-origin:0 50%">0.06</div><div class="a" style="left:459.42px;top:240.93px;font-size:7.7px;color:#ffffff;transform:scaleX(1.0163);transform-origin:0 50%">0.76</div><div class="a" style="left:73.52px;top:268.27px;font-size:7.7px;color:#262626;transform:scaleX(1.0067);transform-origin:0 50%">−0.18</div><div class="a" style="left:100.92px;top:268.27px;font-size:7.7px;color:#262626;transform:scaleX(1.0038);transform-origin:0 50%">−0.07</div><div class="a" style="left:128.17px;top:268.27px;font-size:7.7px;color:#262626;transform:scaleX(1.0084);transform-origin:0 50%">−0.16</div><div class="a" style="left:158.83px;top:268.27px;font-size:7.7px;color:#262626;transform:scaleX(1.0067);transform-origin:0 50%">0.03</div><div class="a" style="left:182.92px;top:268.27px;font-size:7.7px;color:#262626;transform:scaleX(1.0038);transform-origin:0 50%">−0.07</div><div class="a" style="left:213.41px;top:268.27px;font-size:7.7px;color:#262626;transform:scaleX(1.0133);transform-origin:0 50%">0.04</div><div class="a" style="left:240.78px;top:268.27px;font-size:7.7px;color:#262626;transform:scaleX(1.0112);transform-origin:0 50%">0.00</div><div class="a" style="left:264.91px;top:268.27px;font-size:7.7px;color:#262626;transform:scaleX(1.0014);transform-origin:0 50%">−0.03</div><div class="a" style="left:292.26px;top:268.27px;font-size:7.7px;color:#262626;transform:scaleX(1.0038);transform-origin:0 50%">−0.07</div><div class="a" style="left:322.66px;top:268.27px;font-size:7.7px;color:#ffffff;transform:scaleX(1.0084);transform-origin:0 50%">1.00</div><div class="a" style="left:350.11px;top:268.27px;font-size:7.7px;color:#262626;transform:scaleX(1.0112);transform-origin:0 50%">0.20</div><div class="a" style="left:377.57px;top:268.27px;font-size:7.7px;color:#262626;transform:scaleX(1.0023);transform-origin:0 50%">0.22</div><div class="a" style="left:404.77px;top:268.27px;font-size:7.7px;color:#262626;transform:scaleX(1.0139);transform-origin:0 50%">0.18</div><div class="a" style="left:428.86px;top:268.27px;font-size:7.7px;color:#ffffff;transform:scaleX(1.0067);transform-origin:0 50%">−0.28</div><div class="a" style="left:456.26px;top:268.27px;font-size:7.7px;color:#262626;transform:scaleX(0.9997);transform-origin:0 50%">−0.15</div><div class="a" style="left:76.90px;top:295.60px;font-size:7.7px;color:#262626;transform:scaleX(1.0023);transform-origin:0 50%">0.22</div><div class="a" style="left:104.23px;top:295.60px;font-size:7.7px;color:#262626;transform:scaleX(1.0023);transform-origin:0 50%">0.02</div><div class="a" style="left:131.42px;top:295.60px;font-size:7.7px;color:#262626;transform:scaleX(1.0163);transform-origin:0 50%">0.06</div><div class="a" style="left:155.64px;top:295.60px;font-size:7.7px;color:#262626;transform:scaleX(0.9986);transform-origin:0 50%">−0.02</div><div class="a" style="left:182.97px;top:295.60px;font-size:7.7px;color:#262626;transform:scaleX(0.9986);transform-origin:0 50%">−0.12</div><div class="a" style="left:210.19px;top:295.60px;font-size:7.7px;color:#262626;transform:scaleX(1.0046);transform-origin:0 50%">−0.00</div><div class="a" style="left:237.64px;top:295.60px;font-size:7.7px;color:#262626;transform:scaleX(0.9986);transform-origin:0 50%">−0.02</div><div class="a" style="left:264.91px;top:295.60px;font-size:7.7px;color:#262626;transform:scaleX(1.0014);transform-origin:0 50%">−0.03</div><div class="a" style="left:292.31px;top:295.60px;font-size:7.7px;color:#262626;transform:scaleX(0.9986);transform-origin:0 50%">−0.02</div><div class="a" style="left:322.78px;top:295.60px;font-size:7.7px;color:#262626;transform:scaleX(1.0112);transform-origin:0 50%">0.20</div><div class="a" style="left:349.99px;top:295.60px;font-size:7.7px;color:#ffffff;transform:scaleX(1.0084);transform-origin:0 50%">1.00</div><div class="a" style="left:377.50px;top:295.60px;font-size:7.7px;color:#262626;transform:scaleX(1.0067);transform-origin:0 50%">0.23</div><div class="a" style="left:404.90px;top:295.60px;font-size:7.7px;color:#262626;transform:scaleX(1.0023);transform-origin:0 50%">0.32</div><div class="a" style="left:428.82px;top:295.60px;font-size:7.7px;color:#ffffff;transform:scaleX(1.0060);transform-origin:0 50%">−0.54</div><div class="a" style="left:459.46px;top:295.60px;font-size:7.7px;color:#262626;transform:scaleX(1.0142);transform-origin:0 50%">0.19</div><div class="a" style="left:73.59px;top:322.93px;font-size:7.7px;color:#262626;transform:scaleX(1.0038);transform-origin:0 50%">−0.17</div><div class="a" style="left:100.82px;top:322.93px;font-size:7.7px;color:#262626;transform:scaleX(1.0060);transform-origin:0 50%">−0.14</div><div class="a" style="left:128.26px;top:322.93px;font-size:7.7px;color:#262626;transform:scaleX(1.0038);transform-origin:0 50%">−0.17</div><div class="a" style="left:158.76px;top:322.93px;font-size:7.7px;color:#262626;transform:scaleX(1.0163);transform-origin:0 50%">0.06</div><div class="a" style="left:186.11px;top:322.93px;font-size:7.7px;color:#262626;transform:scaleX(1.0112);transform-origin:0 50%">0.00</div><div class="a" style="left:213.42px;top:322.93px;font-size:7.7px;color:#262626;transform:scaleX(1.0163);transform-origin:0 50%">0.06</div><div class="a" style="left:237.57px;top:322.93px;font-size:7.7px;color:#262626;transform:scaleX(1.0014);transform-origin:0 50%">−0.03</div><div class="a" style="left:264.86px;top:322.93px;font-size:7.7px;color:#262626;transform:scaleX(1.0046);transform-origin:0 50%">−0.10</div><div class="a" style="left:292.26px;top:322.93px;font-size:7.7px;color:#262626;transform:scaleX(0.9997);transform-origin:0 50%">−0.15</div><div class="a" style="left:322.90px;top:322.93px;font-size:7.7px;color:#262626;transform:scaleX(1.0023);transform-origin:0 50%">0.22</div><div class="a" style="left:350.16px;top:322.93px;font-size:7.7px;color:#262626;transform:scaleX(1.0067);transform-origin:0 50%">0.23</div><div class="a" style="left:377.33px;top:322.93px;font-size:7.7px;color:#ffffff;transform:scaleX(1.0084);transform-origin:0 50%">1.00</div><div class="a" style="left:404.85px;top:322.93px;font-size:7.7px;color:#262626;transform:scaleX(1.0042);transform-origin:0 50%">0.15</div><div class="a" style="left:428.92px;top:322.93px;font-size:7.7px;color:#ffffff;transform:scaleX(1.0038);transform-origin:0 50%">−0.27</div><div class="a" style="left:456.19px;top:322.93px;font-size:7.7px;color:#ffffff;transform:scaleX(1.0046);transform-origin:0 50%">−0.20</div><div class="a" style="left:76.77px;top:350.27px;font-size:7.7px;color:#262626;transform:scaleX(1.0139);transform-origin:0 50%">0.08</div><div class="a" style="left:100.97px;top:350.27px;font-size:7.7px;color:#ffffff;transform:scaleX(0.9986);transform-origin:0 50%">−0.22</div><div class="a" style="left:128.17px;top:350.27px;font-size:7.7px;color:#262626;transform:scaleX(1.0084);transform-origin:0 50%">−0.06</div><div class="a" style="left:155.61px;top:350.27px;font-size:7.7px;color:#262626;transform:scaleX(1.0000);transform-origin:0 50%">−0.01</div><div class="a" style="left:182.92px;top:350.27px;font-size:7.7px;color:#262626;transform:scaleX(0.9997);transform-origin:0 50%">−0.05</div><div class="a" style="left:213.44px;top:350.27px;font-size:7.7px;color:#262626;transform:scaleX(1.0112);transform-origin:0 50%">0.00</div><div class="a" style="left:237.64px;top:350.27px;font-size:7.7px;color:#262626;transform:scaleX(0.9986);transform-origin:0 50%">−0.02</div><div class="a" style="left:268.20px;top:350.27px;font-size:7.7px;color:#262626;transform:scaleX(1.0045);transform-origin:0 50%">0.01</div><div class="a" style="left:295.42px;top:350.27px;font-size:7.7px;color:#262626;transform:scaleX(1.0163);transform-origin:0 50%">0.06</div><div class="a" style="left:322.77px;top:350.27px;font-size:7.7px;color:#262626;transform:scaleX(1.0139);transform-origin:0 50%">0.18</div><div class="a" style="left:350.23px;top:350.27px;font-size:7.7px;color:#262626;transform:scaleX(1.0023);transform-origin:0 50%">0.32</div><div class="a" style="left:377.51px;top:350.27px;font-size:7.7px;color:#262626;transform:scaleX(1.0042);transform-origin:0 50%">0.15</div><div class="a" style="left:404.66px;top:350.27px;font-size:7.7px;color:#ffffff;transform:scaleX(1.0084);transform-origin:0 50%">1.00</div><div class="a" style="left:428.86px;top:350.27px;font-size:7.7px;color:#ffffff;transform:scaleX(1.0067);transform-origin:0 50%">−0.48</div><div class="a" style="left:459.53px;top:350.27px;font-size:7.7px;color:#262626;transform:scaleX(1.0045);transform-origin:0 50%">0.01</div><div class="a" style="left:73.52px;top:377.60px;font-size:7.7px;color:#262626;transform:scaleX(1.0046);transform-origin:0 50%">−0.10</div><div class="a" style="left:104.18px;top:377.60px;font-size:7.7px;color:#262626;transform:scaleX(1.0467);transform-origin:0 50%">0.11</div><div class="a" style="left:131.51px;top:377.60px;font-size:7.7px;color:#262626;transform:scaleX(1.0042);transform-origin:0 50%">0.05</div><div class="a" style="left:155.52px;top:377.60px;font-size:7.7px;color:#262626;transform:scaleX(1.0046);transform-origin:0 50%">−0.00</div><div class="a" style="left:186.18px;top:377.60px;font-size:7.7px;color:#262626;transform:scaleX(1.0042);transform-origin:0 50%">0.15</div><div class="a" style="left:210.31px;top:377.60px;font-size:7.7px;color:#262626;transform:scaleX(0.9986);transform-origin:0 50%">−0.02</div><div class="a" style="left:240.85px;top:377.60px;font-size:7.7px;color:#262626;transform:scaleX(1.0042);transform-origin:0 50%">0.05</div><div class="a" style="left:268.12px;top:377.60px;font-size:7.7px;color:#262626;transform:scaleX(1.0142);transform-origin:0 50%">0.09</div><div class="a" style="left:295.42px;top:377.60px;font-size:7.7px;color:#262626;transform:scaleX(1.0163);transform-origin:0 50%">0.06</div><div class="a" style="left:319.52px;top:377.60px;font-size:7.7px;color:#ffffff;transform:scaleX(1.0067);transform-origin:0 50%">−0.28</div><div class="a" style="left:346.82px;top:377.60px;font-size:7.7px;color:#ffffff;transform:scaleX(1.0060);transform-origin:0 50%">−0.54</div><div class="a" style="left:374.26px;top:377.60px;font-size:7.7px;color:#ffffff;transform:scaleX(1.0038);transform-origin:0 50%">−0.27</div><div class="a" style="left:401.52px;top:377.60px;font-size:7.7px;color:#ffffff;transform:scaleX(1.0067);transform-origin:0 50%">−0.48</div><div class="a" style="left:431.99px;top:377.60px;font-size:7.7px;color:#ffffff;transform:scaleX(1.0084);transform-origin:0 50%">1.00</div><div class="a" style="left:456.19px;top:377.60px;font-size:7.7px;color:#262626;transform:scaleX(1.0067);transform-origin:0 50%">−0.08</div><div class="a" style="left:76.85px;top:404.93px;font-size:7.7px;color:#ffffff;transform:scaleX(1.0042);transform-origin:0 50%">0.95</div><div class="a" style="left:104.18px;top:404.93px;font-size:7.7px;color:#262626;transform:scaleX(1.0096);transform-origin:0 50%">0.37</div><div class="a" style="left:131.46px;top:404.93px;font-size:7.7px;color:#ffffff;transform:scaleX(1.0142);transform-origin:0 50%">0.79</div><div class="a" style="left:155.49px;top:404.93px;font-size:7.7px;color:#262626;transform:scaleX(1.0060);transform-origin:0 50%">−0.04</div><div class="a" style="left:182.92px;top:404.93px;font-size:7.7px;color:#262626;transform:scaleX(1.0038);transform-origin:0 50%">−0.07</div><div class="a" style="left:210.26px;top:404.93px;font-size:7.7px;color:#262626;transform:scaleX(0.9997);transform-origin:0 50%">−0.05</div><div class="a" style="left:240.79px;top:404.93px;font-size:7.7px;color:#262626;transform:scaleX(1.0142);transform-origin:0 50%">0.19</div><div class="a" style="left:268.09px;top:404.93px;font-size:7.7px;color:#ffffff;transform:scaleX(1.0163);transform-origin:0 50%">0.66</div><div class="a" style="left:295.42px;top:404.93px;font-size:7.7px;color:#ffffff;transform:scaleX(1.0163);transform-origin:0 50%">0.76</div><div class="a" style="left:319.59px;top:404.93px;font-size:7.7px;color:#262626;transform:scaleX(0.9997);transform-origin:0 50%">−0.15</div><div class="a" style="left:350.12px;top:404.93px;font-size:7.7px;color:#262626;transform:scaleX(1.0142);transform-origin:0 50%">0.19</div><div class="a" style="left:374.19px;top:404.93px;font-size:7.7px;color:#ffffff;transform:scaleX(1.0046);transform-origin:0 50%">−0.20</div><div class="a" style="left:404.86px;top:404.93px;font-size:7.7px;color:#262626;transform:scaleX(1.0045);transform-origin:0 50%">0.01</div><div class="a" style="left:428.86px;top:404.93px;font-size:7.7px;color:#262626;transform:scaleX(1.0067);transform-origin:0 50%">−0.08</div><div class="a" style="left:459.33px;top:404.93px;font-size:7.7px;color:#ffffff;transform:scaleX(1.0084);transform-origin:0 50%">1.00</div>
<div class="a" style="left:50.55px;top:22.57px;font-size:7.7px;color:#262626;transform:scaleX(0.9218);transform-origin:0 50%">DoC</div><div class="t" style="left:68.40px;top:26.42px;width:2.6px;height:0.6px;background:#262626"></div><div class="a" style="left:49.72px;top:49.90px;font-size:7.7px;color:#262626;transform:scaleX(1.0212);transform-origin:0 50%">feed</div><div class="t" style="left:68.40px;top:53.75px;width:2.6px;height:0.6px;background:#262626"></div><div class="a" style="left:31.23px;top:77.23px;font-size:7.7px;color:#262626;transform:scaleX(0.9978);transform-origin:0 50%">feed_cum</div><div class="t" style="left:68.40px;top:81.08px;width:2.6px;height:0.6px;background:#262626"></div><div class="a" style="left:30.55px;top:104.57px;font-size:7.7px;color:#262626;transform:scaleX(0.9766);transform-origin:0 50%">pond_size</div><div class="t" style="left:68.40px;top:108.42px;width:2.6px;height:0.6px;background:#262626"></div><div class="a" style="left:6.72px;top:131.90px;font-size:7.7px;color:#262626;transform:scaleX(1.0147);transform-origin:0 50%">stocking_density</div><div class="t" style="left:68.40px;top:135.75px;width:2.6px;height:0.6px;background:#262626"></div><div class="a" style="left:16.77px;top:159.23px;font-size:7.7px;color:#262626;transform:scaleX(1.0104);transform-origin:0 50%">num_aerators</div><div class="t" style="left:68.40px;top:163.08px;width:2.6px;height:0.6px;background:#262626"></div><div class="a" style="left:1.23px;top:186.57px;font-size:7.7px;color:#262626;transform:scaleX(1.0137);transform-origin:0 50%">partial_harvest_kg</div><div class="t" style="left:68.40px;top:190.42px;width:2.6px;height:0.6px;background:#262626"></div><div class="a" style="left:8.57px;top:213.90px;font-size:7.7px;color:#262626;transform:scaleX(0.9991);transform-origin:0 50%">harvest_cum_kg</div><div class="t" style="left:68.40px;top:217.75px;width:2.6px;height:0.6px;background:#262626"></div><div class="a" style="left:19.30px;top:241.23px;font-size:7.7px;color:#262626;transform:scaleX(1.0263);transform-origin:0 50%">partial_count</div><div class="t" style="left:68.40px;top:245.08px;width:2.6px;height:0.6px;background:#262626"></div><div class="a" style="left:33.42px;top:268.57px;font-size:7.7px;color:#262626;transform:scaleX(1.0524);transform-origin:0 50%">alkalinity</div><div class="t" style="left:68.40px;top:272.42px;width:2.6px;height:0.6px;background:#262626"></div><div class="a" style="left:39.93px;top:295.90px;font-size:7.7px;color:#262626;transform:scaleX(1.0443);transform-origin:0 50%">salinity</div><div class="t" style="left:68.40px;top:299.75px;width:2.6px;height:0.6px;background:#262626"></div><div class="a" style="left:56.27px;top:323.23px;font-size:7.7px;color:#262626;transform:scaleX(0.9990);transform-origin:0 50%">do</div><div class="t" style="left:68.40px;top:327.08px;width:2.6px;height:0.6px;background:#262626"></div><div class="a" style="left:56.38px;top:350.57px;font-size:7.7px;color:#262626;transform:scaleX(1.0085);transform-origin:0 50%">ph</div><div class="t" style="left:68.40px;top:354.42px;width:2.6px;height:0.6px;background:#262626"></div><div class="a" style="left:46.76px;top:377.90px;font-size:7.7px;color:#262626;transform:scaleX(1.0569);transform-origin:0 50%">temp</div><div class="t" style="left:68.40px;top:381.75px;width:2.6px;height:0.6px;background:#262626"></div><div class="a" style="left:48.04px;top:405.23px;font-size:7.7px;color:#262626;transform:scaleX(1.0105);transform-origin:0 50%">mbw</div><div class="t" style="left:68.40px;top:409.08px;width:2.6px;height:0.6px;background:#262626"></div>
<div class="a" style="left:83.90px;top:439.20px;font-size:7.7px;color:#262626;transform:rotate(-90deg) scaleX(0.9218);transform-origin:0 50%">DoC</div><div class="t" style="left:84.37px;top:423.05px;width:0.6px;height:2.6px;background:#262626"></div><div class="a" style="left:111.23px;top:440.03px;font-size:7.7px;color:#262626;transform:rotate(-90deg) scaleX(1.0212);transform-origin:0 50%">feed</div><div class="t" style="left:111.70px;top:423.05px;width:0.6px;height:2.6px;background:#262626"></div><div class="a" style="left:138.57px;top:458.52px;font-size:7.7px;color:#262626;transform:rotate(-90deg) scaleX(0.9978);transform-origin:0 50%">feed_cum</div><div class="t" style="left:139.03px;top:423.05px;width:0.6px;height:2.6px;background:#262626"></div><div class="a" style="left:165.90px;top:459.20px;font-size:7.7px;color:#262626;transform:rotate(-90deg) scaleX(0.9766);transform-origin:0 50%">pond_size</div><div class="t" style="left:166.37px;top:423.05px;width:0.6px;height:2.6px;background:#262626"></div><div class="a" style="left:193.23px;top:483.03px;font-size:7.7px;color:#262626;transform:rotate(-90deg) scaleX(1.0147);transform-origin:0 50%">stocking_density</div><div class="t" style="left:193.70px;top:423.05px;width:0.6px;height:2.6px;background:#262626"></div><div class="a" style="left:220.57px;top:472.98px;font-size:7.7px;color:#262626;transform:rotate(-90deg) scaleX(1.0104);transform-origin:0 50%">num_aerators</div><div class="t" style="left:221.03px;top:423.05px;width:0.6px;height:2.6px;background:#262626"></div><div class="a" style="left:247.90px;top:488.52px;font-size:7.7px;color:#262626;transform:rotate(-90deg) scaleX(1.0137);transform-origin:0 50%">partial_harvest_kg</div><div class="t" style="left:248.37px;top:423.05px;width:0.6px;height:2.6px;background:#262626"></div><div class="a" style="left:275.23px;top:481.18px;font-size:7.7px;color:#262626;transform:rotate(-90deg) scaleX(0.9991);transform-origin:0 50%">harvest_cum_kg</div><div class="t" style="left:275.70px;top:423.05px;width:0.6px;height:2.6px;background:#262626"></div><div class="a" style="left:302.57px;top:470.45px;font-size:7.7px;color:#262626;transform:rotate(-90deg) scaleX(1.0263);transform-origin:0 50%">partial_count</div><div class="t" style="left:303.03px;top:423.05px;width:0.6px;height:2.6px;background:#262626"></div><div class="a" style="left:329.90px;top:456.33px;font-size:7.7px;color:#262626;transform:rotate(-90deg) scaleX(1.0524);transform-origin:0 50%">alkalinity</div><div class="t" style="left:330.37px;top:423.05px;width:0.6px;height:2.6px;background:#262626"></div><div class="a" style="left:357.23px;top:449.82px;font-size:7.7px;color:#262626;transform:rotate(-90deg) scaleX(1.0443);transform-origin:0 50%">salinity</div><div class="t" style="left:357.70px;top:423.05px;width:0.6px;height:2.6px;background:#262626"></div><div class="a" style="left:384.57px;top:433.48px;font-size:7.7px;color:#262626;transform:rotate(-90deg) scaleX(0.9990);transform-origin:0 50%">do</div><div class="t" style="left:385.03px;top:423.05px;width:0.6px;height:2.6px;background:#262626"></div><div class="a" style="left:411.90px;top:433.37px;font-size:7.7px;color:#262626;transform:rotate(-90deg) scaleX(1.0085);transform-origin:0 50%">ph</div><div class="t" style="left:412.37px;top:423.05px;width:0.6px;height:2.6px;background:#262626"></div><div class="a" style="left:439.23px;top:442.99px;font-size:7.7px;color:#262626;transform:rotate(-90deg) scaleX(1.0569);transform-origin:0 50%">temp</div><div class="t" style="left:439.70px;top:423.05px;width:0.6px;height:2.6px;background:#262626"></div><div class="a" style="left:466.57px;top:441.71px;font-size:7.7px;color:#262626;transform:rotate(-90deg) scaleX(1.0105);transform-origin:0 50%">mbw</div><div class="t" style="left:467.03px;top:423.05px;width:0.6px;height:2.6px;background:#262626"></div>
<div class="c" style="left:506.8px;top:10.7px;width:21.00px;height:414.30px;background:linear-gradient(to bottom,#b40426 0.00%,#b8122a 1.56%,#be242e 3.12%,#c43032 4.69%,#ca3b37 6.25%,#cf453c 7.81%,#d55042 9.38%,#d85646 10.94%,#dd5f4b 12.50%,#e16751 14.06%,#e46e56 15.62%,#e8765c 17.19%,#eb7d62 18.75%,#ee8468 20.31%,#f08b6e 21.88%,#f29274 23.44%,#f4987a 25.00%,#f5a081 26.56%,#f6a586 28.12%,#f7aa8c 29.69%,#f7b093 31.25%,#f7b599 32.81%,#f7ba9f 34.38%,#f6bfa6 35.94%,#f5c4ac 37.50%,#f3c8b2 39.06%,#f1ccb8 40.62%,#efcfbf 42.19%,#ecd3c5 43.75%,#e9d5cb 45.31%,#e5d8d1 46.88%,#e1dad6 48.44%,#dddcdc 50.00%,#d9dce1 51.56%,#d5dbe5 53.12%,#d1dae9 54.69%,#ccd9ed 56.25%,#c7d7f0 57.81%,#c3d5f4 59.38%,#bed2f6 60.94%,#b9d0f9 62.50%,#b3cdfb 64.06%,#adc9fd 65.62%,#a9c6fd 67.19%,#a2c1ff 68.75%,#9ebeff 70.31%,#98b9ff 71.88%,#93b5fe 73.44%,#8db0fe 75.00%,#86a9fc 76.56%,#82a6fb 78.12%,#7b9ff9 79.69%,#779af7 81.25%,#7093f3 82.81%,#6c8ff1 84.38%,#6788ee 85.94%,#6180e9 87.50%,#5d7ce6 89.06%,#5673e0 90.62%,#536edd 92.19%,#4c66d6 93.75%,#4961d2 95.31%,#4358cb 96.88%,#3f53c6 98.44%,#3b4cc0 100.00%)"></div>
<div class="t" style="left:527.80px;top:10.40px;width:2.4px;height:0.6px;background:#262626"></div><div class="a" style="left:532.69px;top:7.05px;font-size:7.7px;color:#262626;transform:scaleX(0.9978);transform-origin:0 50%">1.0</div><div class="t" style="left:527.80px;top:64.21px;width:2.4px;height:0.6px;background:#262626"></div><div class="a" style="left:532.64px;top:60.86px;font-size:7.7px;color:#262626;transform:scaleX(1.0059);transform-origin:0 50%">0.8</div><div class="t" style="left:527.80px;top:118.01px;width:2.4px;height:0.6px;background:#262626"></div><div class="a" style="left:532.64px;top:114.66px;font-size:7.7px;color:#262626;transform:scaleX(1.0094);transform-origin:0 50%">0.6</div><div class="t" style="left:527.80px;top:171.82px;width:2.4px;height:0.6px;background:#262626"></div><div class="a" style="left:532.64px;top:168.47px;font-size:7.7px;color:#262626;transform:scaleX(1.0052);transform-origin:0 50%">0.4</div><div class="t" style="left:527.80px;top:225.62px;width:2.4px;height:0.6px;background:#262626"></div><div class="a" style="left:532.65px;top:222.27px;font-size:7.7px;color:#262626;transform:scaleX(0.9894);transform-origin:0 50%">0.2</div><div class="t" style="left:527.80px;top:279.43px;width:2.4px;height:0.6px;background:#262626"></div><div class="a" style="left:532.64px;top:276.08px;font-size:7.7px;color:#262626;transform:scaleX(1.0021);transform-origin:0 50%">0.0</div><div class="t" style="left:527.80px;top:333.23px;width:2.4px;height:0.6px;background:#262626"></div><div class="a" style="left:532.82px;top:329.88px;font-size:7.7px;color:#262626;transform:scaleX(1.0687);transform-origin:0 50%">−0.2</div><div class="t" style="left:527.80px;top:387.04px;width:2.4px;height:0.6px;background:#262626"></div><div class="a" style="left:532.81px;top:383.69px;font-size:7.7px;color:#262626;transform:scaleX(1.0788);transform-origin:0 50%">−0.4</div>
</body></html>
